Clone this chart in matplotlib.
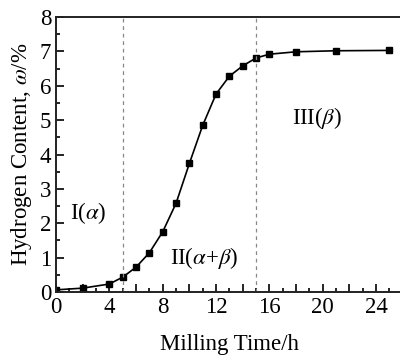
import matplotlib
matplotlib.use("Agg")
import matplotlib.pyplot as plt
from matplotlib.ticker import MultipleLocator, FuncFormatter

plt.rcParams['font.family'] = 'serif'
plt.rcParams['font.serif'] = ['Liberation Serif', 'DejaVu Serif']
plt.rcParams['mathtext.fontset'] = 'stix'

time_h = [0, 2, 4, 5, 6, 7, 8, 9, 10, 11, 12, 13, 14, 15, 16, 18, 21, 25]
h_content = [0.06, 0.11, 0.23, 0.43, 0.72, 1.14, 1.75, 2.58, 3.74, 4.85, 5.76,
             6.28, 6.58, 6.81, 6.92, 6.99, 7.02, 7.03]
boundaries = [5, 15]

fig = plt.figure(figsize=(4.0, 3.56), dpi=100)
ax = fig.add_axes([0.14, 0.18, 0.867, 0.772])

ax.plot(time_h, h_content, '-', color='black', lw=1.2, marker='s', ms=4.6,
        mfc='black', mec='black')
for b in boundaries:
    ax.axvline(b, color='#888888', ls=(0, (3, 3)), lw=0.9)

ax.set_xlim(0, 26)
ax.set_ylim(0, 8)
ax.xaxis.set_major_locator(MultipleLocator(2))
ax.xaxis.set_minor_locator(MultipleLocator(1))
ax.xaxis.set_major_formatter(FuncFormatter(lambda v, p: f"{int(v)}" if int(round(v)) % 4 == 0 else ""))
ax.yaxis.set_major_locator(MultipleLocator(1))
ax.yaxis.set_minor_locator(MultipleLocator(0.5))
ax.tick_params(which='both', direction='in', top=False, right=False, labelsize=16.5, width=1.2)
ax.tick_params(which='major', length=6)
ax.tick_params(which='minor', length=3)
for s in ax.spines.values():
    s.set_linewidth(1.4)
    s.set_color('#222222')

ax.text(1.05, 2.3, r"I($\alpha$)", fontsize=16.5, va='center', ha='left')
ax.text(8.55, 1.0, r"II($\alpha$+$\beta$)", fontsize=16.5, va='center', ha='left')
ax.text(17.7, 5.05, r"III($\beta$)", fontsize=16.5, va='center', ha='left')

ax.set_xlabel("Milling Time/h", fontsize=16.5, labelpad=12)
ax.set_ylabel(r"Hydrogen Content, $\omega$/%", fontsize=16.5, labelpad=4)

fig.savefig("out.png", dpi=100)
